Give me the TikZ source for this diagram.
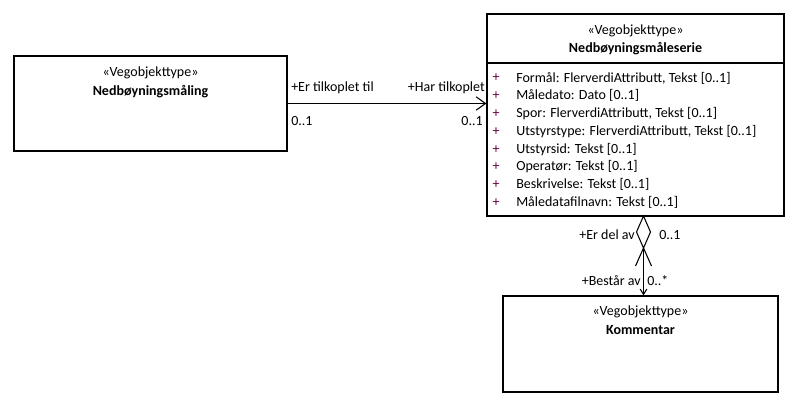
\documentclass[tikz,border=0pt]{standalone}
\usepackage{fontspec}
\setmainfont{Carlito}
\usetikzlibrary{arrows.meta}
\definecolor{plus}{RGB}{100,0,70}
\begin{document}
\begin{tikzpicture}[x=0.75pt,y=-0.75pt,
  box/.style={draw=black,line width=0.9pt,fill=white,inner sep=0pt},
  txt/.style={font=\fontsize{10.5pt}{12pt}\selectfont,inner sep=0pt},
  ttl/.style={font=\fontsize{10.5pt}{12pt}\selectfont\bfseries,inner sep=0pt},
  pl/.style={txt,text=plus},
  lbl/.style={txt},
  conn/.style={draw=black,line width=0.8pt}]
\useasboundingbox (0,0) rectangle (803,407);
% boxes
\node[box,minimum width=204.75pt,minimum height=71.25pt] (b1) at (150.5,103.5) {};
\node[box,minimum width=222.75pt,minimum height=151.5pt] (b2) at (635.5,115) {};
\node[box,minimum width=206.25pt,minimum height=72pt] (b3) at (640.5,344) {};
\draw[line width=0.8pt] (487,63) -- (784,63);
% titles
\node[txt] (s1) at (150.5,73) {«Vegobjekttype»};
\node[ttl] (n1) at (150.5,92) {Nedbøyningsmåling};
\node[txt] (s2) at (635.5,31) {«Vegobjekttype»};
\node[ttl] (n2) at (635.5,49) {Nedbøyningsmåleserie};
\node[txt] (s3) at (640.5,312) {«Vegobjekttype»};
\node[ttl] (n3) at (640.5,330) {Kommentar};
% attributes
\foreach \i/\t in {0/{Formål: FlerverdiAttributt, Tekst [0..1]},
                   1/{Måledato: Dato [0..1]},
                   2/{Spor: FlerverdiAttributt, Tekst [0..1]},
                   3/{Utstyrstype: FlerverdiAttributt, Tekst [0..1]},
                   4/{Utstyrsid: Tekst [0..1]},
                   5/{Operatør: Tekst [0..1]},
                   6/{Beskrivelse: Tekst [0..1]},
                   7/{Måledatafilnavn: Tekst [0..1]}}{
  \node[pl] (p\i) at (496,78+17.8*\i) {+};
  \node[txt,anchor=west] (a\i) at (516,78+17.8*\i) {\t};
}
% horizontal association
\draw[conn,-{Straight Barb[length=7pt,width=10pt,line width=0.8pt]}] (b1.east) -- (b1.east -| b2.west);
\node[lbl,anchor=west] (l1) at (291,88) {+Er tilkoplet til};
\node[lbl,anchor=west] (l2) at (291,121) {0..1};
\node[lbl,anchor=east] (l3) at (485,88) {+Har tilkoplet};
\node[lbl,anchor=east] (l4) at (483,121) {0..1};
% aggregation
\coordinate (dtop) at (643.5,216);
\coordinate (dbot) at (643.5,248);
\draw[conn,fill=white] (dtop) -- (636.5,232) -- (dbot) -- (650.5,232) -- cycle;
\draw[conn] (635.5,266) -- (dbot) -- (651.5,266);
\draw[conn,-{Straight Barb[length=4pt,width=5pt,line width=0.8pt]}] (dbot) -- (dbot |- b3.north);
\node[lbl,anchor=east] (l5) at (635,235) {+Er del av};
\node[lbl,anchor=west] (l6) at (659,235) {0..1};
\node[lbl,anchor=east] (l7) at (641,281) {+Består av};
\node[lbl,anchor=west] (l8) at (647,281) {0..*};
\end{tikzpicture}
\end{document}
